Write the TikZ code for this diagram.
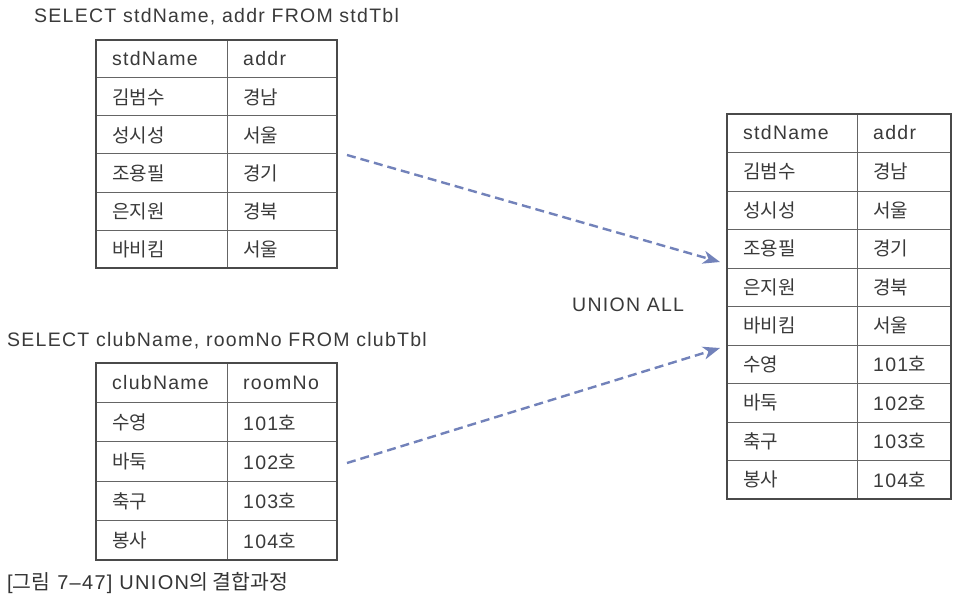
\documentclass[tikz,border=0pt]{standalone}
\usepackage{fontspec}
\setmainfont{Liberation Sans}[LetterSpace=6.5]
\newfontfamily\kr{Noto Sans CJK KR}
\usetikzlibrary{arrows.meta}
\definecolor{txt}{HTML}{3A3A3A}
\definecolor{arr}{HTML}{7282BA}
\definecolor{gridc}{HTML}{4A4A4A}
\newcommand{\ko}[1]{{\kr\fontsize{19}{22}\selectfont #1}}
\tikzset{
  lbl/.style={anchor=west, inner sep=0pt, text=txt, font=\fontsize{19.5}{22}\selectfont},
  cell/.style={anchor=west, inner sep=0pt, text=txt, font=\fontsize{19.5}{22}\selectfont},
  kcell/.style={anchor=west, inner sep=0pt, text=txt, font=\kr\fontsize{19}{22}\selectfont},
  caplbl/.style={anchor=west, inner sep=0pt, text=txt!90!black, font=\fontsize{20}{24}\selectfont},
  tframe/.style={draw=gridc, line width=1.5pt},
  tline/.style={draw=gridc!85, line width=1pt},
  flow/.style={draw=arr, line width=2.4pt, dash pattern=on 9pt off 5pt,
    -{Stealth[length=17pt,width=13pt,inset=5pt]}},
}
\begin{document}
\begin{tikzpicture}[x=1pt,y=-1pt]
\useasboundingbox[fill=white] (0,0) rectangle (956,599);

% ---------- Table 1 ----------
\node[lbl] (q1) at (34,17) {SELECT stdName, addr FROM stdTbl};
\foreach \k in {1,...,5} \draw[tline] (96,40+38*\k) -- (337,40+38*\k);
\draw[tline] (227,40) -- (227,268);
\draw[tframe] (96,40) rectangle (337,268);
\node[cell] (t1h1) at (112,59) {stdName};
\node[cell] (t1h2) at (243,59) {addr};
\foreach \a/\b [count=\i] in {김범수/경남,성시성/서울,조용필/경기,은지원/경북,바비킴/서울}{
  \node[kcell] (t1a\i) at (112,59+38*\i) {\a};
  \node[kcell] (t1b\i) at (243,59+38*\i) {\b};
}

% ---------- Table 2 ----------
\node[lbl] (q2) at (7,341) {SELECT clubName, roomNo FROM clubTbl};
\foreach \k in {1,...,4} \draw[tline] (96,363+39.4*\k) -- (337,363+39.4*\k);
\draw[tline] (227,363) -- (227,560);
\draw[tframe] (96,363) rectangle (337,560);
\node[cell] (t2h1) at (112,383) {clubName};
\node[cell] (t2h2) at (243,383) {roomNo};
\foreach \a/\b [count=\i] in {수영/101,바둑/102,축구/103,봉사/104}{
  \node[kcell] (t2a\i) at (112,383+39.4*\i) {\a};
  \node[cell] (t2b\i) at (243,383+39.4*\i) {\b\ko{호}};
}

% ---------- Table 3 ----------
\foreach \k in {1,...,9} \draw[tline] (727,114+38.5*\k) -- (951,114+38.5*\k);
\draw[tline] (857,114) -- (857,499);
\draw[tframe] (727,114) rectangle (951,499);
\node[cell] (t3h1) at (743,133) {stdName};
\node[cell] (t3h2) at (873,133) {addr};
\foreach \a/\b [count=\i] in {김범수/경남,성시성/서울,조용필/경기,은지원/경북,바비킴/서울}{
  \node[kcell] (t3a\i) at (743,133+38.5*\i) {\a};
  \node[kcell] (t3b\i) at (873,133+38.5*\i) {\b};
}
\foreach \a/\b [count=\j from 6] in {수영/101,바둑/102,축구/103,봉사/104}{
  \node[kcell] (t3a\j) at (743,133+38.5*\j) {\a};
  \node[cell] (t3b\j) at (873,133+38.5*\j) {\b\ko{호}};
}

% ---------- label and arrows ----------
\node[lbl] (ua) at (572,305) {UNION ALL};
\coordinate (s1) at (347,155);
\coordinate (e1) at (720,262);
\coordinate (s2) at (347,463);
\coordinate (e2) at (720,348);
\draw[flow] (s1) -- (e1);
\draw[flow] (s2) -- (e2);

% ---------- caption ----------
\node[caplbl] (cap) at (7,583) {[{\kr\fontsize{20.5}{24}\selectfont 그림} 7–47] UNION{\kr\fontsize{20.5}{24}\selectfont 의 결합과정}};
\end{tikzpicture}
\end{document}
